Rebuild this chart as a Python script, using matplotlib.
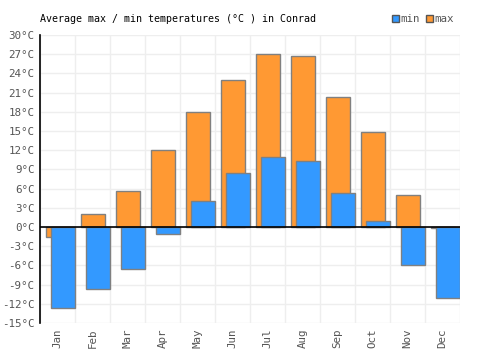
import numpy as np
import matplotlib.pyplot as plt
from matplotlib.patches import Rectangle

# dados
months = ['Jan', 'Feb', 'Mar', 'Apr', 'May', 'Jun', 'Jul', 'Aug', 'Sep', 'Oct', 'Nov', 'Dec']
t_max = [-1.5, 2.1, 5.7, 12.1, 17.9, 22.9, 27.0, 26.7, 20.3, 14.8, 5.0, -0.1]
t_min = [-12.7, -9.7, -6.5, -1.1, 4.0, 8.5, 10.9, 10.3, 5.3, 0.9, -6.0, -11.1]
yticks = list(range(-15, 31, 3))

plt.rcParams['font.family'] = ['DejaVu Sans Mono']

fig = plt.figure(figsize=(5, 3.5), dpi=100)
ax = fig.add_axes([0.08, 0.077, 0.84, 0.823])

x = np.arange(len(months))
w = 0.686
ax.bar(x - 0.329 + w / 2, t_max, width=w, color='#FF9933', edgecolor='#808080', linewidth=1, zorder=2)
ax.bar(x - 0.186 + w / 2, t_min, width=w, color='#3399FF', edgecolor='#808080', linewidth=1, zorder=3)

ax.axhline(0, color='black', linewidth=1.2, zorder=4)

ax.set_xlim(-0.5, 11.5)
ax.set_ylim(-15, 30)
ax.set_yticks(yticks)
ax.set_yticklabels([f'{v}°C' for v in yticks], color='#555555', fontsize=7.8)
ax.set_xticks(x)
ax.set_xticklabels(months, rotation=90, color='#555555', fontsize=7.8)
ax.set_xticks(np.arange(-0.5, 12, 1), minor=True)
ax.tick_params(axis='both', length=0, pad=4)
ax.tick_params(axis='x', which='minor', length=0)

ax.grid(True, axis='y', color='#eeeeee', linewidth=1, zorder=0)
ax.grid(True, axis='x', which='minor', color='#eeeeee', linewidth=1, zorder=0)
ax.set_axisbelow(True)

for s in ['top', 'right', 'bottom']:
    ax.spines[s].set_visible(False)
ax.spines['left'].set_color('black')
ax.spines['left'].set_linewidth(1.2)

fig.text(0.08, 0.947, 'Average max / min temperatures (°C ) in Conrad', fontsize=7.2, va='center', color='black')

# legenda
fig.patches.append(Rectangle((0.784, 0.937), 0.014, 0.02, transform=fig.transFigure,
                             facecolor='#3399FF', edgecolor='#555555', linewidth=1))
fig.text(0.8, 0.947, 'min', fontsize=7.8, va='center', color='#555555')
fig.patches.append(Rectangle((0.852, 0.937), 0.014, 0.02, transform=fig.transFigure,
                             facecolor='#FF9933', edgecolor='#555555', linewidth=1))
fig.text(0.868, 0.947, 'max', fontsize=7.8, va='center', color='#555555')

fig.savefig('out.png', dpi=100)
